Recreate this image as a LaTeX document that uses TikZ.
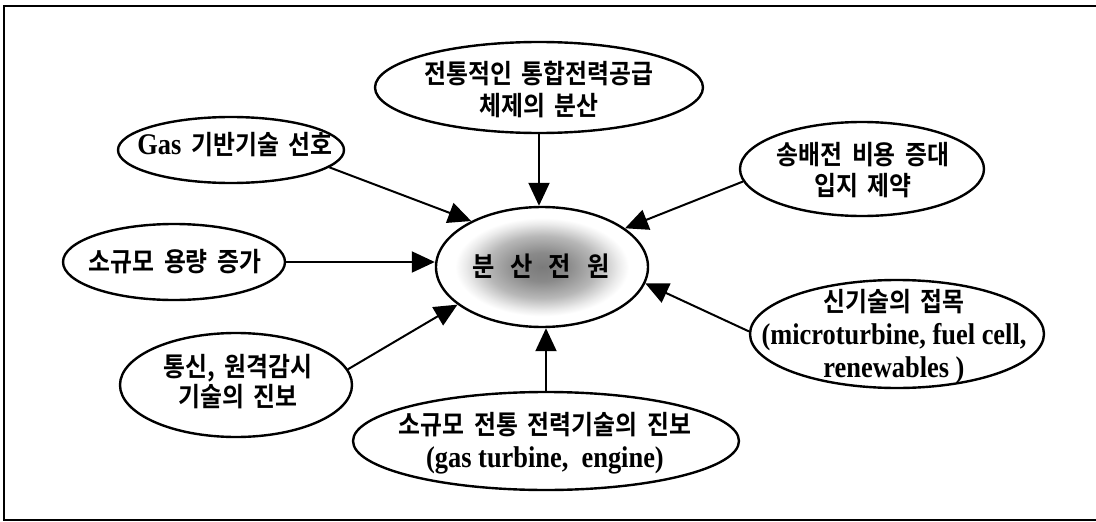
\documentclass[tikz,border=0pt]{standalone}
\usepackage{fontspec}
\setmainfont{Liberation Serif}[FakeStretch=0.88]
\newfontfamily\kr{Noto Sans CJK KR}[BoldFont={Noto Sans CJK KR Bold}, WordSpace=1.8, FakeStretch=0.9]
\usetikzlibrary{arrows.meta,shapes.geometric}
\pgfdeclareradialshading{blob}{\pgfpoint{0bp}{0bp}}{color(0bp)=(black!52); color(6bp)=(black!46); color(13bp)=(black!28); color(18bp)=(black!8); color(20.5bp)=(white); color(50bp)=(white)}
\newcommand\lat[1]{{\rmfamily\bfseries\fontsize{30}{33}\selectfont #1}}
\tikzset{
  bub/.style={ellipse, draw, line width=2.4pt, inner sep=0pt},
  txt/.style={align=center, inner sep=0pt, font=\kr\bfseries\fontsize{26.5}{33}\selectfont},
  arr/.style={line width=2pt, -{Triangle[length=23pt,width=21pt]}},
  frame/.style={line width=2pt}
}
\begin{document}
\begin{tikzpicture}[x=1pt,y=-1pt]
\useasboundingbox (0,0) rectangle (1096,522);
\coordinate (f1) at (1096,6);
\coordinate (f2) at (4,6);
\coordinate (f3) at (4,520);
\coordinate (f4) at (1096,520);
\draw[frame] (f1) -- (f2) -- (f3) -- (f4);

\node[bub, shade, shading=blob, minimum width=212pt, minimum height=120pt] (c) at (542,267) {};
\node[txt, font=\kr\bfseries\fontsize{27}{30}\selectfont] (cT) at (541,266) {분\hspace{16pt}산\hspace{16pt}전\hspace{16pt}원};

\node[bub, minimum width=328pt, minimum height=91pt] (top) at (539,87.5) {};
\node[txt, font=\kr\bfseries\fontsize{26.5}{32}\selectfont] (topT) at (539,89) {전통적인 통합전력공급\\체제의 분산};

\node[bub, minimum width=226pt, minimum height=66pt] (gas) at (231,150) {};
\node[txt] (gasT) at (235,145) {\lat{Gas} 기반기술 선호};

\node[bub, minimum width=222pt, minimum height=76pt] (small) at (174,262) {};
\node[txt] (smallT) at (175,262) {소규모 용량 증가};

\node[bub, minimum width=232pt, minimum height=104pt] (tong) at (236,385) {};
\node[txt, font=\kr\bfseries\fontsize{26.5}{30}\selectfont] (tongT) at (238,382) {통신, 원격감시\\기술의 진보};

\node[bub, minimum width=244pt, minimum height=94pt] (song) at (862,169) {};
\node[txt, font=\kr\bfseries\fontsize{26.5}{31}\selectfont] (songT) at (863,170) {송배전 비용 증대\\입지 제약};

\node[bub, minimum width=294pt, minimum height=108pt] (sin) at (897,334) {};
\node[txt] (sinT) at (894,337) {신기술의 접목\\\lat{(microturbine, fuel cell,}\\\lat{renewables )}};

\node[bub, minimum width=386pt, minimum height=98pt] (bot) at (546,441) {};
\node[txt] (botT) at (545,443) {소규모 전통 전력기술의 진보\\\lat{(gas turbine,\ \ engine)}};

\draw[arr] (gas.350) -- (c.147);
\draw[arr] (small.east) -- (small.east -| c.west);
\draw[arr] (tong.8) -- (c.204);
\draw[arr] (top.south) -- (top.south |- c.north);
\draw[arr] (song.186) -- (c.25);
\draw[arr] (sin.179) -- (c.351);
\draw[arr] (bot.north) -- (bot.north |- c.south);
\end{tikzpicture}
\end{document}
